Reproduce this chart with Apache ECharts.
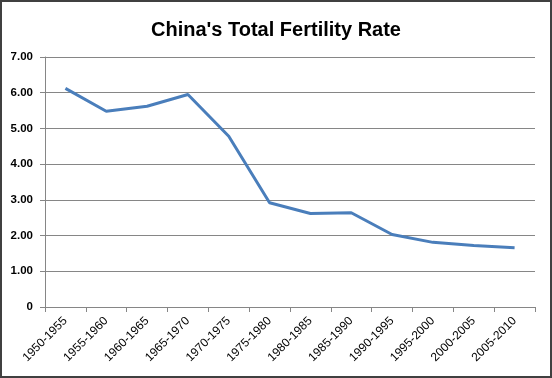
<!DOCTYPE html>
<html><head><meta charset="utf-8">
<script src="https://cdn.jsdelivr.net/npm/echarts@6/dist/echarts.min.js"></script>
<style>html,body{margin:0;padding:0;background:#fff}#c{width:552px;height:378px}</style>
</head><body><div id="c"></div>
<script>
const categories = ['1950-1955','1955-1960','1960-1965','1965-1970','1970-1975','1975-1980','1980-1985','1985-1990','1990-1995','1995-2000','2000-2005','2005-2010'];
const fertility = [6.12, 5.48, 5.62, 5.95, 4.78, 2.92, 2.62, 2.64, 2.03, 1.81, 1.72, 1.66];
const titleText = "China's Total Fertility Rate";
const chart = echarts.init(document.getElementById('c'), null, {renderer:'canvas'});
const fam = "'Liberation Sans', Arial, sans-serif";
chart.setOption({
  animation: false,
  title: {text: titleText, left: 'center', top: 15,
    textStyle: {fontFamily: fam, fontSize: 20, fontWeight: 'bold', color: '#000'}},
  graphic: [{type:'rect', shape:{x:1, y:1, width:550, height:376},
    style:{fill:'none', stroke:'#404040', lineWidth:2}, silent:true, z:100}],
  grid: {left: 45, right: 17, top: 57, bottom: 71, containLabel: false},
  xAxis: {type:'category', data: categories, boundaryGap: true,
    axisLine:{lineStyle:{color:'#868686', width:1}},
    axisTick:{show:true, alignWithLabel:false, length:5, lineStyle:{color:'#868686'}},
    axisLabel:{rotate:45, fontFamily: fam, fontSize: 12, color:'#000', margin: 12, interval: 0}},
  yAxis: {type:'value', min:0, max:7, interval:1,
    axisLine:{show:true, lineStyle:{color:'#868686'}},
    axisTick:{show:true, length:5, lineStyle:{color:'#868686'}},
    splitLine:{lineStyle:{color:'#868686', width:1}},
    axisLabel:{fontFamily: fam, fontSize: 11.5, fontWeight:'bold', color:'#000', margin: 12,
      formatter: v => v === 0 ? '0' : v.toFixed(2)}},
  series: [{type:'line', data: fertility, symbol:'none', smooth:false,
    lineStyle:{color:'#4A7EBB', width:3}}]
});
</script></body></html>
